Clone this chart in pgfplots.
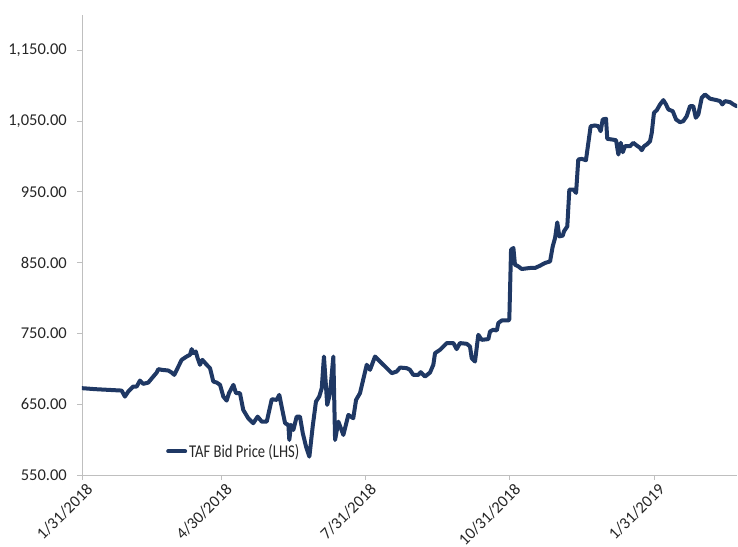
\documentclass[border=0pt]{standalone}
\usepackage{fontspec}
\setmainfont{Carlito}
\usepackage{pgfplots}
\pgfplotsset{compat=1.18}
\definecolor{navy}{RGB}{31,56,100}
\definecolor{axgray}{RGB}{191,191,191}
\definecolor{txt}{RGB}{38,38,38}
\begin{document}
\begin{tikzpicture}
\begin{axis}[
  scale only axis,
  width=655pt, height=460pt,
  xmin=0, xmax=418, ymin=550, ymax=1200,
  axis x line*=bottom, axis y line*=left,
  axis line style={draw=axgray, line width=0.9pt, -},
  tick style={draw=axgray, line width=0.9pt},
  tick align=outside, major tick length=5pt,
  xtick={0,89,181,273,365},
  xticklabels={1/31/2018,4/30/2018,7/31/2018,10/31/2018,1/31/2019},
  x tick label style={rotate=45, anchor=north east, inner sep=1pt, xshift=2pt, yshift=-3pt},
  ytick={550,650,750,850,950,1050,1150},
  yticklabels={550.00,650.00,750.00,850.00,950.00,{1,050.00},{1,150.00}},
  y tick label style={inner sep=0pt, xshift=-10pt},
  ticklabel style={font=\fontsize{16.5}{19}\selectfont, text=txt},
  legend style={at={(axis cs:53.6,583.5)}, anchor=west, draw=none, fill=none,
    inner sep=0pt, font=\fontsize{18}{20}\selectfont, text=txt,
    legend cell align=left},
  legend image code/.code={\draw[navy, line width=4pt] (0pt,0pt) -- (17pt,0pt);},
]
\addplot[navy, line width=4pt, line join=round, line cap=round] coordinates {
(0,672.7)(8.3,671.3)(16.8,670.3)(25.3,669.3)(27.4,660.8)(29.5,667.9)(32.7,675)(34.9,675)
(37,683.4)(39.1,678.8)(42.3,680.6)(45.5,689.1)(47.7,694.8)(48.7,699.6)(50.9,698.6)(55.1,697.6)
(57.2,694.8)(58.9,691.5)(61.5,703.3)(63.6,712.7)(66.8,717.4)(68.9,719.8)(70,727.9)(71,722.2)
(72.6,724.5)(73.8,715.1)(75.3,705.7)(76.8,712.7)(79.6,705.7)(81.7,701)(83.8,682)(86,680.6)
(88.1,677.4)(90.2,660.8)(92.3,655.1)(93.8,665.6)(96.6,677.4)(98.3,665.6)(100.8,665.6)(102.9,642)
(106.1,630.2)(109.3,623.2)(112.1,632.5)(114.7,625.4)(117.9,625.4)(121.1,657.1)(124.3,656.1)(125.9,663.2)
(127.4,646.7)(129.6,623.2)(131.7,620.8)(132.3,599.5)(133.4,620.8)(134.9,613.7)(137,632.5)(139.1,632.5)
(140.9,609)(143,590)(145.1,575.9)(147.2,618.3)(149.3,653.7)(151.4,660.8)(153,672.7)(154.4,717.4)
(156.5,649.1)(158.3,665.6)(160.4,717.4)(161.5,599.5)(163.6,625.4)(166.8,606.6)(170,634.9)(173.1,630.2)
(174.9,656.1)(177.4,665.6)(181.7,705.7)(183.8,698.6)(187,717.4)(190.2,710.3)(194.5,701)(197.7,693.9)
(200.8,696.2)(203,701.8)(207.2,701)(209.3,698.6)(211.4,691.5)(214.6,691.5)(216.2,695.3)(218.9,689.1)
(222.1,694.8)(224.2,705.7)(225.3,722.2)(228.5,726.9)(232.8,736.4)(237,736.4)(239.1,727.9)(241.2,736.4)
(245.5,735.4)(247.6,731.6)(248.7,715.1)(250.8,710.3)(252.9,748.1)(255.1,741)(259.3,742)(260.4,752.8)
(262.5,755.2)(264.7,754.2)(265.7,764.7)(267.9,768.4)(272.1,768.4)(272.7,770)(273.8,868.4)(275.3,870.8)
(276.3,847.2)(278.4,844.8)(280.6,841.1)(285.9,842.5)(289.1,842.5)(292.3,845.8)(295.5,849.6)(298.7,851.8)
(300.4,873.1)(301.9,885)(303.3,907)(304.6,887.2)(306.8,888.2)(307.6,894.3)(309.7,901.4)(311,953.3)
(313.6,953.3)(315.3,948.6)(316.7,995.8)(318.9,996.7)(321.6,994.8)(324.6,1042.9)(327.4,1043.9)(329.5,1042.9)
(331,1035.8)(332.3,1052.4)(334.4,1053.4)(335.2,1025)(338.1,1024.1)(340.8,1023.1)(342.3,1002.8)(343.8,1019.4)
(345.1,1006.1)(346.5,1014.6)(349.7,1014.6)(351.8,1019.4)(354,1015.6)(356.1,1012.3)(357.2,1008.9)(358.7,1014.6)
(360.4,1017)(362.5,1021.7)(363.6,1033.5)(365,1061.8)(366.8,1065.5)(368.9,1073.6)(371,1079.7)(372.7,1073.6)
(374.2,1066.5)(377,1064.1)(379.1,1052.4)(381.6,1048.5)(383.7,1050)(385.9,1057)(388,1071.2)(390.1,1071.2)
(391.7,1054.8)(393.3,1059.4)(395.5,1083.1)(397.6,1087.7)(400.8,1081.7)(405,1079.7)(407.2,1078.3)(408.6,1073.6)
(410.4,1078.3)(413.6,1076.8)(415.7,1073.6)(417.8,1071.2)
};
\addlegendentry{\scalebox{0.81}[1]{TAF Bid Price (LHS)}}
\end{axis}
\pgfresetboundingbox
\path[use as bounding box] ([shift={(-82pt,-72pt)}]current axis.south west) rectangle ([shift={(1pt,15pt)}]current axis.north east);
\end{tikzpicture}
\end{document}
